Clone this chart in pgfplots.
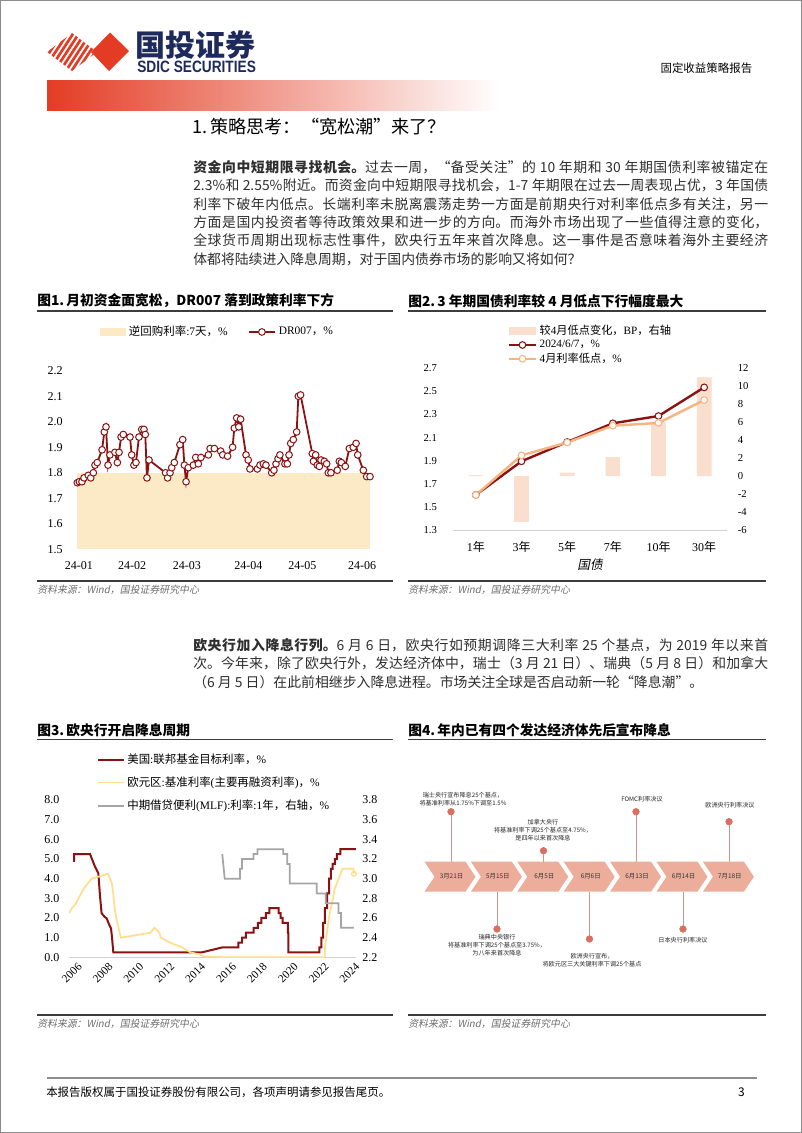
\documentclass[border=0pt]{standalone}
\usepackage{fontspec}
\usepackage{graphicx}
\usepackage{pgfplots}
\pgfplotsset{compat=1.18}
\setmainfont{Liberation Serif}
\newfontfamily\cjk{Noto Sans CJK SC}
\newfontfamily\cjkit[FakeSlant=0.2]{Noto Sans CJK SC}
\newfontfamily\lsans{Liberation Sans}
\newcommand{\zh}[1]{{\cjk #1}}
\XeTeXlinebreaklocale "zh"
\XeTeXlinebreakskip = 0pt plus 1pt

\definecolor{logored}{RGB}{228,60,36}
\definecolor{navy}{RGB}{30,42,92}
\definecolor{drred}{RGB}{139,18,18}
\definecolor{repofill}{RGB}{252,234,198}
\definecolor{barpeach}{RGB}{250,222,206}
\definecolor{lowora}{RGB}{245,180,130}
\definecolor{ecbyel}{RGB}{255,222,140}
\definecolor{mlfgray}{RGB}{165,165,165}
\definecolor{chev}{RGB}{236,174,154}
\definecolor{dotred}{RGB}{216,112,98}
\definecolor{stemc}{RGB}{200,150,140}
\definecolor{rulec}{RGB}{60,60,60}
\definecolor{srcgray}{RGB}{110,110,110}

\pgfplotsset{
  /pgf/number format/assume math mode=true,
  lm legend/.style={legend image code/.code={\draw[mark repeat=2,mark phase=2,##1] plot coordinates {(0pt,0pt)(10pt,0pt)(20pt,0pt)};}},
  ar legend/.style={legend image code/.code={\fill[##1] (0pt,-2.8pt) rectangle (20pt,2.8pt);}},
  ln legend/.style={legend image code/.code={\draw[##1] (0pt,0pt) -- (19pt,0pt);}},
  onedec/.style={/pgf/number format/fixed, /pgf/number format/fixed zerofill, /pgf/number format/precision=1},
}

\begin{document}
\begin{tikzpicture}
\path[use as bounding box] (0,0) rectangle (601.5pt,-849.75pt);
\fill[white] (0,0) rectangle (601.5pt,-849.75pt);

\begin{scope}[x=0.75pt,y=-0.75pt]
  % page frame
  \draw[black!45, line width=0.9pt] (0.7,0.7) rectangle (801.3,1132.3);
  % logo
  \begin{scope}
    \clip (47,52) -- (72,33) -- (97,52) -- (72,71) -- cycle;
    \foreach \s in {0,...,12} \draw[logored, line width=2pt] ({20+\s*5.7},80) -- ({20+\s*5.7+36},25);
  \end{scope}
  \fill[logored] (91,52) -- (110,32.5) -- (129,51) -- (109,71) -- cycle;
  \node[anchor=west, inner sep=0, text=navy, font=\fontsize{22.5}{24}\cjk\bfseries] at (135,45) {国投证券};
  \node[anchor=west, inner sep=0, text=navy] at (137,66.5) {\resizebox{89pt}{8.6pt}{\lsans\bfseries SDIC SECURITIES}};
  \node[anchor=east, font=\fontsize{8.6}{9}\cjk] at (757,68) {固定收益策略报告};
  \shade[left color=logored, middle color=logored!40, right color=white] (47,80) rectangle (500,110);

  % section title
  \node[anchor=west, inner sep=0, font=\fontsize{13.6}{15}\cjk] at (192,127) {1.\,策略思考：“宽松潮”来了？};

  % paragraph 1
  \node[anchor=north west, inner sep=0, text width=431.25pt, align=justify, text=black!82, font=\fontsize{10.4}{13.8}\cjk] at (193,160) {%
  {\bfseries 资金向中短期限寻找机会。}过去一周，“备受关注”的 10 年期和 30 年期国债利率被锚定在\linebreak
  2.3\%和 2.55\%附近。而资金向中短期限寻找机会，1-7 年期限在过去一周表现占优，3 年国债\linebreak
  利率下破年内低点。长端利率未脱离震荡走势一方面是前期央行对利率低点多有关注，另一\linebreak
  方面是国内投资者等待政策效果和进一步的方向。而海外市场出现了一些值得注意的变化，\linebreak
  全球货币周期出现标志性事件，欧央行五年来首次降息。这一事件是否意味着海外主要经济\linebreak
  体都将陆续进入降息周期，对于国内债券市场的影响又将如何？};

  % paragraph 2
  \node[anchor=north west, inner sep=0, text width=431.25pt, align=justify, text=black!82, font=\fontsize{10.4}{13.8}\cjk] at (193,638) {%
  {\bfseries 欧央行加入降息行列。}6 月 6 日，欧央行如预期调降三大利率 25 个基点，为 2019 年以来首\linebreak
  次。今年来，除了欧央行外，发达经济体中，瑞士（3 月 21 日）、瑞典（5 月 8 日）和加拿大\linebreak
  （6 月 5 日）在此前相继步入降息进程。市场关注全球是否启动新一轮“降息潮”。};

  % figure titles and rules
  \node[anchor=west, inner sep=0, font=\fontsize{10.3}{12}\cjk\bfseries] at (37,301) {图1.\,月初资金面宽松，DR007 落到政策利率下方};
  \node[anchor=west, inner sep=0, font=\fontsize{10.3}{12}\cjk\bfseries] at (408,301) {图2.\,3 年期国债利率较 4 月低点下行幅度最大};
  \node[anchor=west, inner sep=0, font=\fontsize{10.3}{12}\cjk\bfseries] at (37,730) {图3.\,欧央行开启降息周期};
  \node[anchor=west, inner sep=0, font=\fontsize{10.3}{12}\cjk\bfseries] at (408,730) {图4.\,年内已有四个发达经济体先后宣布降息};
  \foreach \yy in {311,581,739.5,1015} {
    \draw[rulec, line width=1.2pt] (37,\yy) -- (393,\yy);
    \draw[rulec, line width=1.2pt] (408,\yy) -- (766,\yy);
  }
  \foreach \xx/\yy in {37/590,408/590,37/1024,408/1024}
    \node[anchor=west, inner sep=0, text=srcgray, font=\fontsize{7.4}{8}\cjkit] at (\xx,\yy) {资料来源：Wind，国投证券研究中心};

  % footer
  \draw[black!45, line width=1pt] (47,1078) -- (757,1078);
  \node[anchor=west, inner sep=0, font=\fontsize{8.6}{9}\cjk] at (46,1092) {本报告版权属于国投证券股份有限公司，各项声明请参见报告尾页。};
  \node[anchor=east, inner sep=0, font=\fontsize{9}{9}\cjk] at (745,1092) {3};
\end{scope}

% ---------- Figure 1 ----------
\begin{axis}[
  at={(52.5pt,-411.975pt)}, anchor=south west, scale only axis,
  width=228.75pt, height=133.95pt,
  xmin=-3.83, xmax=159.97, ymin=1.5, ymax=2.2,
  axis line style={draw=none}, major tick length=0pt,
  ytick={1.5,1.6,1.7,1.8,1.9,2.0,2.1,2.2},
  yticklabel style={onedec, xshift=-2pt},
  xtick={1,29.5,59,92,121,153},
  xticklabels={24-01,24-02,24-03,24-04,24-05,24-06},
  xticklabel style={yshift=-5.5pt},
  tick label style={font=\fontsize{9}{10}\selectfont},
  legend style={at={(0.484,1.217)}, anchor=center, draw=none, fill=none,
    legend columns=2, font=\fontsize{8.6}{10}\selectfont,
    /tikz/every even column/.append style={column sep=13pt}},
]
\addplot[draw=none, fill=repofill, ar legend] coordinates {(0,1.5)(0,1.8)(157.3,1.8)(157.3,1.5)};
\addlegendentry{\zh{逆回购利率}:7\zh{天，}\%}
\addplot[drred, line width=1.35pt, mark=*, mark size=2.5pt,
  mark options={fill=white, draw=drred, line width=0.75pt}, lm legend] coordinates {
(0.1,1.761)(1.2,1.765)(2.6,1.765)(3.7,1.78)(6.0,1.79)(7.3,1.78)(8.7,1.80)(9.6,1.83)
(10.8,1.84)(13.4,1.89)(14.6,1.96)(15.5,1.98)(16.6,1.83)(17.6,1.87)(20.3,1.88)(21.6,1.84)
(22.5,1.88)(23.6,1.94)(24.8,1.95)(28.4,1.94)(29.3,1.87)(30.5,1.83)(31.6,1.84)(33.2,1.94)
(34.7,1.97)(35.9,1.97)(36.6,1.95)(37.5,1.78)(38.6,1.85)(47.5,1.80)(48.6,1.78)(49.9,1.80)
(50.8,1.82)(52.2,1.84)(55.2,1.91)(56.7,1.93)(57.6,1.83)(58.5,1.765)(59.7,1.82)(62.4,1.83)
(63.7,1.86)(65.1,1.835)(66.5,1.86)(70.5,1.87)(71.4,1.895)(73.7,1.895)(77.1,1.885)(78.2,1.87)
(80.8,1.865)(83.5,1.90)(84.4,1.975)(85.7,2.015)(86.8,1.98)(87.8,2.01)(90.7,1.87)(91.9,1.85)
(92.8,1.815)(96.8,1.815)(98.2,1.83)(100.0,1.835)(101.4,1.83)(104.5,1.80)(105.7,1.81)(106.8,1.835)
(107.9,1.855)(108.9,1.87)(111.6,1.835)(112.9,1.835)(113.8,1.87)(114.7,1.915)(116.1,1.93)(117.9,1.96)
(118.8,2.10)(120.0,2.105)(126.3,1.875)(126.9,1.845)(128.1,1.87)(129.0,1.83)(130.1,1.825)(131.0,1.85)
(132.8,1.845)(134.0,1.835)(134.9,1.80)(136.3,1.80)(139.7,1.81)(140.8,1.845)(141.9,1.84)(144.0,1.825)
(146.2,1.895)(148.3,1.90)(149.8,1.915)(150.7,1.87)(153.7,1.81)(155.5,1.785)(157.3,1.785)
};
\addlegendentry{DR007\zh{，}\%}
\end{axis}

% ---------- Figure 2 (bars, right axis) ----------
\begin{axis}[
  at={(339.75pt,-397.5pt)}, anchor=south west, scale only axis,
  width=205.5pt, height=121.275pt,
  xmin=-0.5, xmax=5.5, ymin=-6, ymax=12,
  axis x line=none, axis y line*=right, y axis line style={draw=none},
  major tick length=0pt, ytick={-6,-4,...,12},
  yticklabel style={font=\fontsize{8}{9}\selectfont, xshift=4.6pt},
  ybar, bar width=11pt,
]
\addplot[fill=barpeach, draw=none] coordinates {(0,0.1)(1,-5.1)(2,0.4)(3,2.1)(4,6.0)(5,11.0)};
\end{axis}

% ---------- Figure 2 (lines, left axis) ----------
\begin{axis}[
  at={(339.75pt,-397.5pt)}, anchor=south west, scale only axis,
  width=205.5pt, height=121.275pt,
  xmin=-0.5, xmax=5.5, ymin=1.3, ymax=2.7,
  axis y line*=left, y axis line style={draw=none},
  axis x line*=bottom, x axis line style={-, draw=black!18, line width=0.6pt},
  major tick length=0pt,
  xtick={0,...,5},
  xticklabels={1\zh{年},3\zh{年},5\zh{年},7\zh{年},10\zh{年},30\zh{年}},
  xticklabel style={font=\fontsize{9}{10}\selectfont, yshift=-5pt},
  ytick={1.3,1.5,1.7,1.9,2.1,2.3,2.5,2.7},
  yticklabel style={onedec, font=\fontsize{8}{9}\selectfont, xshift=-8.5pt},
  xlabel={\cjkit 国债},
  xlabel style={at={(axis description cs:0.5,-0.2165)}, anchor=center, font=\fontsize{9.5}{10}\selectfont},
  legend style={at={(0.185,1.30)}, anchor=north west, draw=none, fill=none,
    font=\fontsize{8.4}{9.5}\selectfont, row sep=-1.5pt, cells={anchor=west}},
]
\addlegendimage{ar legend, fill=barpeach, draw=none}
\addlegendentry{\zh{较}4\zh{月低点变化，}BP\zh{，右轴}}
\addplot[drred, line width=1.8pt, mark=*, mark size=2.5pt,
  mark options={fill=white, draw=drred, line width=0.8pt}, lm legend]
  coordinates {(0,1.604)(1,1.895)(2,2.062)(3,2.224)(4,2.287)(5,2.535)};
\addlegendentry{2024/6/7\zh{，}\%}
\addplot[lowora, line width=1.8pt, mark=*, mark size=2.5pt,
  mark options={fill=white, draw=lowora, line width=0.8pt}, lm legend]
  coordinates {(0,1.603)(1,1.946)(2,2.058)(3,2.203)(4,2.227)(5,2.425)};
\addlegendentry{4\zh{月利率低点，}\%}
\end{axis}

% ---------- Figure 3 (left axis) ----------
\begin{axis}[
  at={(51.9pt,-717.975pt)}, anchor=south west, scale only axis,
  width=215.25pt, height=117.975pt,
  xmin=2006, xmax=2024.6, ymin=0, ymax=8,
  axis y line*=left, y axis line style={draw=none},
  axis x line*=bottom, x axis line style={-, draw=black!18, line width=0.6pt},
  major tick length=0pt,
  ytick={0,1,2,3,4,5,6,7,8},
  yticklabel style={onedec, xshift=-3.9pt, font=\fontsize{9}{10}\selectfont},
  xtick={2006,2008,...,2024},
  xticklabel style={/pgf/number format/1000 sep={}, yshift=-12pt, xshift=2pt, rotate=45, anchor=center, font=\fontsize{8.5}{9}\selectfont},
]
\addplot[drred, line width=1.5pt] coordinates {
(2006.31,4.86)(2006.32,5.25)(2007.35,5.25)(2007.67,4.61)(2007.89,4.27)(2008.0,3.08)(2008.1,2.24)
(2008.28,2.07)(2008.43,1.98)(2008.6,1.64)(2008.71,1.47)(2008.77,1.05)(2008.86,0.25)(2014.59,0.25)
(2015.9,0.5)(2016.96,0.5)(2016.96,0.75)(2017.2,0.75)(2017.2,1.0)(2017.45,1.0)(2017.45,1.25)
(2017.96,1.25)(2017.96,1.5)(2018.22,1.5)(2018.22,1.75)(2018.46,1.75)(2018.46,2.0)(2018.74,2.0)
(2018.74,2.25)(2018.97,2.25)(2018.97,2.5)(2019.58,2.5)(2019.58,2.25)(2019.71,2.25)(2019.71,2.0)
(2019.83,2.0)(2019.83,1.75)(2020.17,1.75)(2020.17,1.25)(2020.21,1.25)(2020.21,0.25)(2022.21,0.25)
(2022.21,0.5)(2022.34,0.5)(2022.34,1.0)(2022.46,1.0)(2022.46,1.75)(2022.57,1.75)(2022.57,2.5)
(2022.72,2.5)(2022.72,3.25)(2022.84,3.25)(2022.84,4.0)(2022.96,4.0)(2022.96,4.5)(2023.08,4.5)
(2023.08,4.75)(2023.22,4.75)(2023.22,5.0)(2023.34,5.0)(2023.34,5.25)(2023.57,5.25)(2023.57,5.5)
(2024.58,5.5)
};
\addplot[ecbyel, line width=1.3pt] coordinates {
(2006.0,2.25)(2006.18,2.5)(2006.45,2.75)(2006.6,3.0)(2006.78,3.25)(2006.94,3.5)(2007.2,3.75)
(2007.45,4.0)(2008.52,4.25)(2008.77,3.75)(2008.85,3.25)(2008.94,2.5)(2009.05,2.0)(2009.2,1.5)
(2009.27,1.25)(2009.36,1.0)(2011.27,1.25)(2011.52,1.5)(2011.84,1.25)(2011.94,1.0)(2012.53,0.75)
(2013.34,0.5)(2013.86,0.25)(2014.44,0.15)(2014.69,0.05)(2016.19,0.0)(2022.55,0.0)(2022.58,0.5)
(2022.7,1.25)(2022.83,2.0)(2022.96,2.5)(2023.1,3.0)(2023.21,3.5)(2023.34,3.75)(2023.46,4.0)
(2023.58,4.25)(2023.71,4.5)(2024.43,4.5)(2024.45,4.25)
};
\addplot[only marks, mark=o, mark size=1.8pt, ecbyel, line width=0.9pt] coordinates {(2024.45,4.25)};
\end{axis}

% ---------- Figure 3 (right axis) ----------
\begin{axis}[
  at={(51.9pt,-717.975pt)}, anchor=south west, scale only axis,
  width=215.25pt, height=117.975pt,
  xmin=2006, xmax=2024.6, ymin=2.2, ymax=3.8,
  axis x line=none, axis y line*=right, y axis line style={draw=none},
  major tick length=0pt,
  ytick={2.2,2.4,2.6,2.8,3.0,3.2,3.4,3.6,3.8},
  yticklabel style={onedec, xshift=1.1pt, font=\fontsize{9}{10}\selectfont},
  legend style={at={(0.083,1.33)}, anchor=north west, draw=none, fill=none,
    font=\fontsize{8.6}{10}\selectfont, row sep=4.5pt, cells={anchor=west}},
]
\addlegendimage{ln legend, drred, line width=1.5pt}
\addlegendentry{\zh{美国}:\zh{联邦基金目标利率，}\%}
\addlegendimage{ln legend, ecbyel, line width=1.3pt}
\addlegendentry{\zh{欧元区}:\zh{基准利率}(\zh{主要再融资利率})\zh{，}\%}
\addplot[mlfgray, line width=1.3pt, ln legend] coordinates {
(2015.92,3.25)(2016.08,3.0)(2017.07,3.0)(2017.07,3.1)(2017.2,3.1)(2017.2,3.2)(2017.95,3.2)
(2017.95,3.25)(2018.2,3.25)(2018.2,3.3)(2019.87,3.3)(2019.87,3.25)(2020.13,3.25)(2020.13,3.15)
(2020.3,3.15)(2020.3,2.95)(2022.05,2.95)(2022.05,2.85)(2022.62,2.85)(2022.62,2.75)(2023.46,2.75)
(2023.46,2.65)(2023.62,2.65)(2023.62,2.5)(2024.45,2.5)
};
\addlegendentry{\zh{中期借贷便利}(MLF):\zh{利率}:1\zh{年，右轴，}\%}
\end{axis}

% ---------- Figure 4 (timeline) ----------
\begin{axis}[
  at={(300pt,-757.5pt)}, anchor=south west, scale only axis,
  width=301.5pt, height=202.5pt,
  xmin=400, xmax=802, ymin=740, ymax=1010, y dir=reverse,
  axis lines=none, clip=false,
]
% stems
\addplot[stemc, line width=0.6pt] coordinates {(451,811.7)(451,861.7)};
\addplot[stemc, line width=0.6pt] coordinates {(497,891.7)(497,929)};
\addplot[stemc, line width=0.6pt] coordinates {(543.5,850.7)(543.5,861.7)};
\addplot[stemc, line width=0.6pt] coordinates {(589.5,891.7)(589.5,939)};
\addplot[stemc, line width=0.6pt] coordinates {(636,811.7)(636,861.7)};
\addplot[stemc, line width=0.6pt] coordinates {(683,891.7)(683,929)};
\addplot[stemc, line width=0.6pt] coordinates {(729,821.7)(729,861.7)};
% chevrons
\addplot[fill=chev, draw=none] coordinates {(424.5,861.7)(465.5,861.7)(475.5,876.7)(465.5,891.7)(424.5,891.7)(434.5,876.7)(424.5,861.7)};
\addplot[fill=chev, draw=none] coordinates {(470.9,861.7)(511.9,861.7)(521.9,876.7)(511.9,891.7)(470.9,891.7)(480.9,876.7)(470.9,861.7)};
\addplot[fill=chev, draw=none] coordinates {(517.3,861.7)(558.3,861.7)(568.3,876.7)(558.3,891.7)(517.3,891.7)(527.3,876.7)(517.3,861.7)};
\addplot[fill=chev, draw=none] coordinates {(563.7,861.7)(604.7,861.7)(614.7,876.7)(604.7,891.7)(563.7,891.7)(573.7,876.7)(563.7,861.7)};
\addplot[fill=chev, draw=none] coordinates {(610.1,861.7)(651.1,861.7)(661.1,876.7)(651.1,891.7)(610.1,891.7)(620.1,876.7)(610.1,861.7)};
\addplot[fill=chev, draw=none] coordinates {(656.5,861.7)(697.5,861.7)(707.5,876.7)(697.5,891.7)(656.5,891.7)(666.5,876.7)(656.5,861.7)};
\addplot[fill=chev, draw=none] coordinates {(702.9,861.7)(743.9,861.7)(753.9,876.7)(743.9,891.7)(702.9,891.7)(712.9,876.7)(702.9,861.7)};
% dots
\addplot[only marks, mark=*, mark size=2.5pt, dotred] coordinates {(451,811.7)(497,929)(543.5,850.7)(589.5,939)(636,811.7)(683,929)(729,821.7)};
% labels
\foreach \xx/\lab in {451.5/3月21日,497.9/5月15日,544.3/6月5日,590.7/6月6日,637.1/6月13日,683.5/6月14日,729.9/7月18日}{
  \edef\tmp{\noexpand\node[font=\noexpand\fontsize{4.8}{5}\noexpand\cjk, text=black!80] at (axis cs:\xx,876.7) {\lab};}
  \tmp
}
\node[align=center, font=\fontsize{4.6}{6}\cjk, text=black!85] at (axis cs:463,799) {瑞士央行宣布降息25个基点，\\将基准利率从1.75\%下调至1.5\%};
\node[align=center, font=\fontsize{4.6}{6}\cjk, text=black!85] at (axis cs:543,830) {加拿大央行\\将基准利率下调25个基点至4.75\%，\\是四年以来首次降息};
\node[align=center, font=\fontsize{4.6}{6}\cjk, text=black!85] at (axis cs:642,799) {FOMC利率决议};
\node[align=center, font=\fontsize{4.6}{6}\cjk, text=black!85] at (axis cs:730,805) {欧洲央行利率决议};
\node[align=center, font=\fontsize{4.6}{6}\cjk, text=black!85] at (axis cs:497,945) {瑞典中央银行\\将基准利率下调25个基点至3.75\%，\\为八年来首次降息};
\node[align=center, font=\fontsize{4.6}{6}\cjk, text=black!85] at (axis cs:592,960.5) {欧洲央行宣布，\\将欧元区三大关键利率下调25个基点};
\node[align=center, font=\fontsize{4.6}{6}\cjk, text=black!85] at (axis cs:683,940) {日本央行利率决议};
\end{axis}
\end{tikzpicture}
\end{document}
